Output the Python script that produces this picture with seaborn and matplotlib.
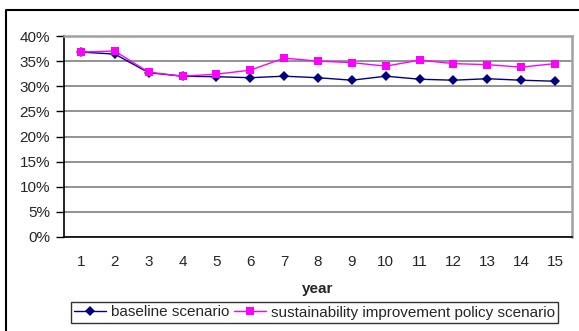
import matplotlib
matplotlib.use("Agg")
import matplotlib.pyplot as plt
from matplotlib.lines import Line2D
from matplotlib.ticker import FixedLocator, PercentFormatter
import pandas as pd
import seaborn as sns

years = list(range(1, 16))
baseline = [36.8, 36.4, 32.7, 32.0, 31.9, 31.7, 32.0, 31.7, 31.2, 32.0, 31.4, 31.2, 31.5, 31.2, 31.0]
policy = [36.8, 37.0, 32.8, 32.0, 32.4, 33.2, 35.6, 35.0, 34.7, 34.0, 35.2, 34.5, 34.3, 33.8, 34.5]
series_names = ["baseline scenario", "sustainability improvement policy scenario"]
y_ticks = [0, 5, 10, 15, 20, 25, 30, 35, 40]

df = pd.DataFrame({
    "year": years * 2,
    "share": baseline + policy,
    "scenario": [series_names[0]] * len(years) + [series_names[1]] * len(years),
})

sns.set_style("white")
plt.rcParams["font.family"] = ["Liberation Sans", "DejaVu Sans"]

FS = 11
W, H = 579, 331
fig = plt.figure(figsize=(W / 100, H / 100), dpi=100)
ax = fig.add_axes([64 / W, 1 - 237 / H, (572 - 64) / W, (237 - 36) / H])

palette = {series_names[0]: "#000080", series_names[1]: "#FF00FF"}
markers = {series_names[0]: "D", series_names[1]: "s"}
msize = {series_names[0]: 5, series_names[1]: 5.5}
sns.lineplot(data=df, x="year", y="share", hue="scenario", style="scenario",
             palette=palette, markers=markers, dashes=False, linewidth=1.0,
             markersize=5.5, markeredgewidth=0, ax=ax, legend=False, zorder=3)
for line in ax.lines:
    if line.get_marker() == "D":
        line.set_markersize(msize[series_names[0]])

ax.set_xlim(0.5, 15.5)
ax.set_ylim(0, 40)
ax.yaxis.set_major_locator(FixedLocator(y_ticks))
ax.yaxis.set_major_formatter(PercentFormatter(decimals=0))
ax.set_xticks(years)
ax.set_xticks([y + 0.5 for y in range(0, 16)], minor=True)
ax.tick_params(axis="x", which="major", length=0, pad=13, labelsize=FS)
ax.tick_params(axis="x", which="minor", length=4, width=1, color="black", direction="out")
ax.tick_params(axis="y", which="major", length=6, width=1, color="black", direction="out",
               pad=4, labelsize=FS, left=True)
ax.grid(axis="y", color="#808080", linewidth=1.2)
ax.set_axisbelow(True)
ax.set_xlabel("year", fontsize=FS, fontweight="bold", labelpad=9)
ax.set_ylabel("")

for side in ("left", "bottom"):
    ax.spines[side].set_color("black")
    ax.spines[side].set_linewidth(1.2)
for side in ("top", "right"):
    ax.spines[side].set_visible(True)
    ax.spines[side].set_color("#A0A0A0")
    ax.spines[side].set_linewidth(1.8)

handles = [Line2D([], [], color=palette[n], marker=markers[n], linewidth=1.0,
                  markersize=msize[n], markeredgewidth=0)
           for n in series_names]
leg = fig.legend(handles, series_names, loc="center",
                 bbox_to_anchor=((61 + 568) / 2 / W, 1 - (299 + 326) / 2 / H),
                 ncol=2, frameon=True, fontsize=FS, handlelength=2.1,
                 handletextpad=0.3, columnspacing=0.3, borderpad=0.25,
                 fancybox=False)
leg.get_frame().set_edgecolor("black")
leg.get_frame().set_linewidth(1.0)

# chart frame (left and top edges)
fig.add_artist(Line2D([6 / W, 6 / W, 1], [0, 1 - 10 / H, 1 - 10 / H],
                      transform=fig.transFigure, color="black", linewidth=1.5))

fig.savefig("out.png", dpi=100, facecolor="white")
